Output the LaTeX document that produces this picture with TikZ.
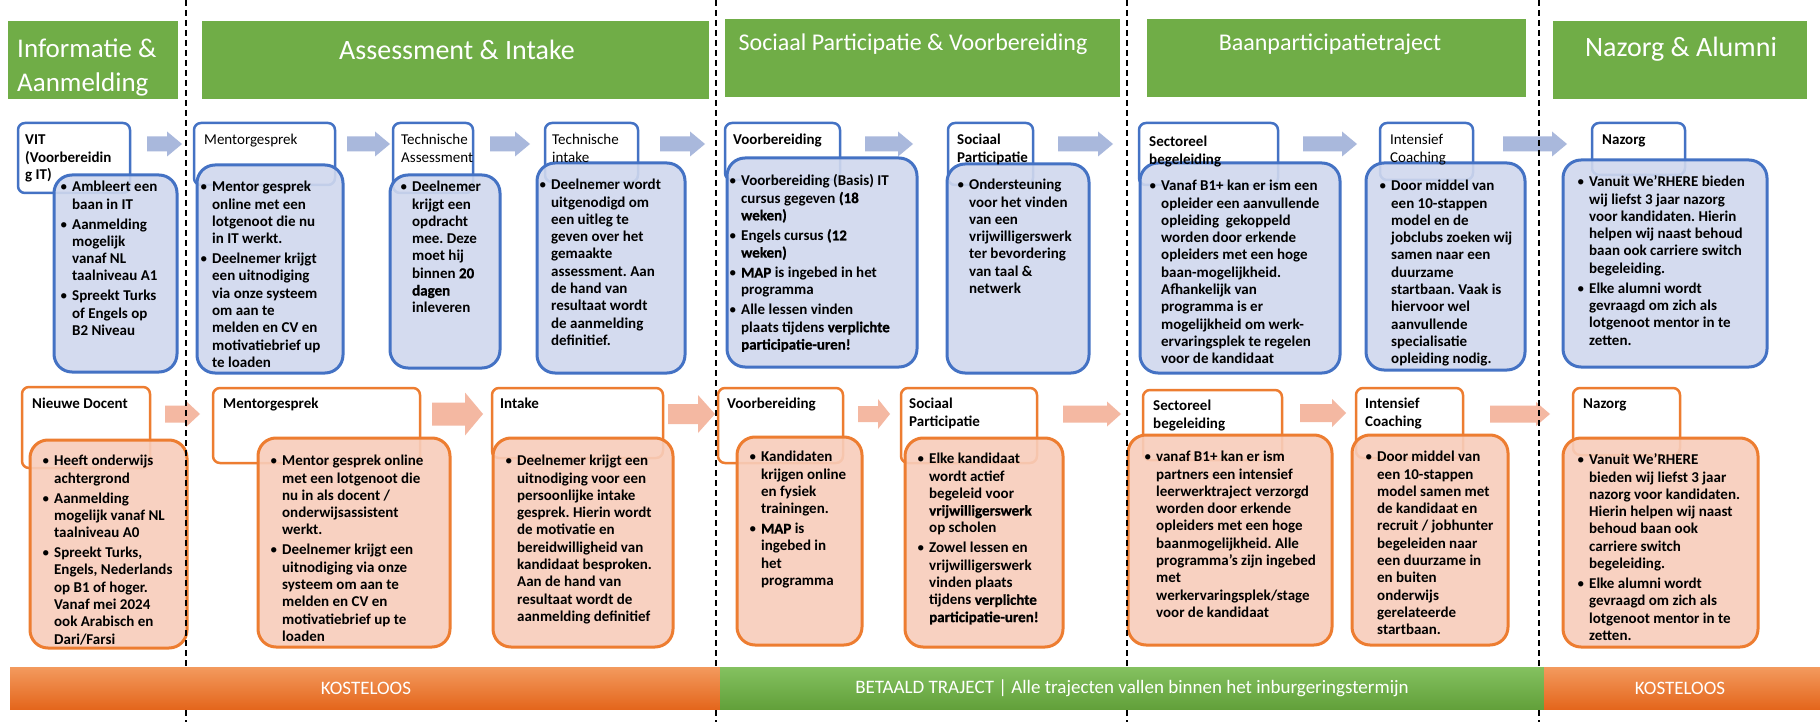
\documentclass[tikz,border=0pt]{standalone}
\usepackage{fontspec}
\setmainfont{Carlito}
\newfontface\heavy{Carlito Bold}[FakeBold=1]
\usetikzlibrary{fit}
\frenchspacing
\definecolor{bborder}{HTML}{4472C4}
\definecolor{bfill}{HTML}{D0D8EE}
\definecolor{barrow}{HTML}{A9B8DC}
\definecolor{oborder}{HTML}{ED7D31}
\definecolor{ofill}{HTML}{F8CDBB}
\definecolor{oarrow}{HTML}{F4B8A2}
\definecolor{hgreen}{HTML}{70AD47}
\definecolor{barOtop}{HTML}{F39A5E}
\definecolor{barOmid}{HTML}{EE7C33}
\definecolor{barObot}{HTML}{E4661C}
\definecolor{barGtop}{HTML}{84C160}
\definecolor{barGmid}{HTML}{72AF4A}
\definecolor{barGbot}{HTML}{62A03A}
\newcommand\mylines[1]{\begin{tabular}{@{}l@{}}#1\end{tabular}}
\newcommand\mybullets[1]{\begin{tabular}{@{}l@{\hspace{4.5pt}}l@{}}#1\end{tabular}}
\newcommand\bpt{{\mdseries\textbullet}&}
% x1, x2, yc, shaft half, head half, head length, colour
\newcommand\blockarrow[7]{%
  \fill[#7] (#1,#3-#4) -- (#2-#6,#3-#4) -- (#2-#6,#3-#5) -- (#2,#3) --
  (#2-#6,#3+#5) -- (#2-#6,#3+#4) -- (#1,#3+#4) -- cycle;}
\tikzset{
  btitle/.style={draw=bborder, line width=2.5pt, fill=white, rounded corners=7pt, inner sep=0pt},
  bcont/.style={draw=bborder, line width=3pt, fill=bfill, fill opacity=0.9, rounded corners=18pt, inner sep=0pt},
  otitle/.style={draw=oborder, line width=2.5pt, fill=white, rounded corners=7pt, inner sep=0pt},
  ocont/.style={draw=oborder, line width=3pt, fill=ofill, fill opacity=0.9, rounded corners=18pt, inner sep=0pt},
  txt/.style={anchor=north west, inner sep=0pt, font=\fontsize{15}{17.3}\selectfont},
  btxt/.style={anchor=north west, inner sep=0pt, font=\fontsize{15}{17.3}\selectfont\bfseries},
  header/.style={fill=hgreen, inner sep=0pt},
  htxt/.style={text=white, inner sep=0pt},
  dashline/.style={line width=2pt, dash pattern=on 6pt off 4pt},
  obar/.style={inner sep=0pt, top color=barOtop, middle color=barOmid, bottom color=barObot},
  gbar/.style={inner sep=0pt, top color=barGtop, middle color=barGmid, bottom color=barGbot},
  bartxt/.style={text=white, inner sep=0pt, font=\fontsize{19}{22}\selectfont},
}
\begin{document}
\begin{tikzpicture}[x=1pt,y=-1pt]
\useasboundingbox (0,0) rectangle (1820,722);
\fill[white] (0,0) rectangle (1820,722);

% ---------- headers ----------
\node[header, fit={(8,21) (178,99)}] (h1) {};
\node[header, fit={(202,21) (709,99)}] (h2) {};
\node[header, fit={(725,19) (1120,97)}] (h3) {};
\node[header, fit={(1147,19) (1526,97)}] (h4) {};
\node[header, fit={(1553,21) (1807,99)}] (h5) {};
\node[htxt, anchor=north west, font=\fontsize{27}{34}\selectfont] (h1t) at (17,34) {\mylines{Informatie \&\\Aanmelding}};
\node[htxt, font=\fontsize{28}{34}\selectfont] (h2t) at (457,50) {Assessment \& Intake};
\node[htxt, font=\fontsize{24}{30}\selectfont] (h3t) at (913,44) {Sociaal Participatie \& Voorbereiding};
\node[htxt, font=\fontsize{24}{30}\selectfont] (h4t) at (1330,44) {Baanparticipatietraject};
\node[htxt, font=\fontsize{28}{34}\selectfont] (h5t) at (1681,49) {Nazorg \& Alumni};

% ---------- blue arrows ----------
\blockarrow{147}{182}{144}{7.5}{12.5}{15}{barrow}
\blockarrow{347}{390}{144}{7.5}{12.5}{15}{barrow}
\blockarrow{490}{530}{144}{7.5}{12.5}{15}{barrow}
\blockarrow{660}{705}{144}{7.5}{12.5}{15}{barrow}
\blockarrow{865}{913}{144}{7.5}{12.5}{15}{barrow}
\blockarrow{1058}{1113}{144}{7.5}{12.5}{15}{barrow}
\blockarrow{1303}{1357}{144}{7.5}{12.5}{15}{barrow}
\blockarrow{1503}{1567}{144}{7.5}{12.5}{15}{barrow}

% ---------- orange arrows ----------
\blockarrow{165}{200}{414}{8.5}{13}{14}{oarrow}
\blockarrow{432}{483}{414}{11.5}{21.5}{18}{oarrow}
\blockarrow{668}{715}{414}{10}{19}{17}{oarrow}
\blockarrow{858}{890}{414}{8}{15}{12}{oarrow}
\blockarrow{1063}{1121}{414}{8.5}{12.5}{14}{oarrow}
\blockarrow{1300}{1346}{413}{9}{14}{14}{oarrow}
\blockarrow{1490}{1550}{414}{8.5}{12}{14}{oarrow}

% ---------- blue row ----------
\node[btitle, fit={(18,123) (130,193)}] (b1t) {};
\node[bcont, fit={(54,175) (177,372)}] (b1c) {};
\node[btxt] (b1tt) at (25,132.4) {\mylines{VIT\\(Voorbereidin\\g IT)}};
\node[btxt] (b1ct) at (60,179.4) {\mybullets{\bpt Ambleert een\\ & baan in IT\\[2.7pt]
\bpt Aanmelding\\ & mogelijk\\ & vanaf NL\\ & taalniveau A1\\[2.7pt]
\bpt Spreekt Turks\\ & of Engels op\\ & B2 Niveau}};

\node[btitle, fit={(194,123) (335,185)}] (b2t) {};
\node[bcont, fit={(197,165) (343,373)}] (b2c) {};
\node[txt] (b2tt) at (204,132.4) {\mylines{Mentorgesprek}};
\node[btxt] (b2ct) at (200,179.4) {\mybullets{\bpt Mentor gesprek\\ & online met een\\ & lotgenoot die nu\\ & in IT werkt.\\[2.7pt]
\bpt Deelnemer krijgt\\ & een uitnodiging\\ & via onze systeem\\ & om aan te\\ & melden en CV en\\ & motivatiebrief up\\ & te loaden}};

\node[btitle, fit={(393,123) (473,193)}] (b3t) {};
\node[bcont, fit={(390,175) (500,368)}] (b3c) {};
\node[txt] (b3tt) at (401,132.4) {\mylines{Technische\\Assessment}};
\node[btxt] (b3ct) at (400,179.4) {\mybullets{\bpt Deelnemer\\ & krijgt een\\ & opdracht\\ & mee. Deze\\ & moet hij\\ & binnen {\heavy 20}\\ & {\heavy dagen}\\ & inleveren}};

\node[btitle, fit={(545,123) (638,182)}] (b4t) {};
\node[bcont, fit={(537,163) (685,373)}] (b4c) {};
\node[txt] (b4tt) at (552,132.4) {\mylines{Technische\\intake}};
\node[btxt] (b4ct) at (539,177.4) {\mybullets{\bpt Deelnemer wordt\\ & uitgenodigd om\\ & een uitleg te\\ & geven over het\\ & gemaakte\\ & assessment. Aan\\ & de hand van\\ & resultaat wordt\\ & de aanmelding\\ & definitief.}};

\node[btitle, fit={(725,123) (840,180)}] (b5t) {};
\node[bcont, fit={(727,158) (917,367)}] (b5c) {};
\node[btxt] (b5tt) at (733,132.4) {\mylines{Voorbereiding}};
\node[btxt] (b5ct) at (729,173.4) {\mybullets{\bpt Voorbereiding (Basis) IT\\ & cursus gegeven {\heavy (18}\\ & {\heavy weken)}\\[2.7pt]
\bpt Engels cursus {\heavy (12}\\ & {\heavy weken)}\\[2.7pt]
\bpt {\heavy MAP} is ingebed in het\\ & programma\\[2.7pt]
\bpt Alle lessen vinden\\ & plaats tijdens {\heavy verplichte}\\ & {\heavy participatie-uren!}}};

\node[btitle, fit={(948,123) (1033,185)}] (b6t) {};
\node[bcont, fit={(947,164) (1089,373)}] (b6c) {};
\node[btxt] (b6tt) at (957,132.4) {\mylines{Sociaal\\Participatie}};
\node[btxt] (b6ct) at (957,177.4) {\mybullets{\bpt Ondersteuning\\ & voor het vinden\\ & van een\\ & vrijwilligerswerk\\ & ter bevordering\\ & van taal \&\\ & netwerk}};

\node[btitle, fit={(1139,123) (1278,185)}] (b7t) {};
\node[bcont, fit={(1140,163) (1340,373)}] (b7c) {};
\node[btxt] (b7tt) at (1149,134.4) {\mylines{Sectoreel\\begeleiding}};
\node[btxt] (b7ct) at (1149,178.4) {\mybullets{\bpt Vanaf B1+ kan er ism een\\ & opleider een aanvullende\\ & opleiding\ \ gekoppeld\\ & worden door erkende\\ & opleiders met een hoge\\ & baan-mogelijkheid.\\ & Afhankelijk van\\ & programma is er\\ & mogelijkheid om werk-\\ & ervaringsplek te regelen\\ & voor de kandidaat}};

\node[btitle, fit={(1380,123) (1473,180)}] (b8t) {};
\node[bcont, fit={(1366,163) (1525,370)}] (b8c) {};
\node[txt] (b8tt) at (1390,132.4) {\mylines{Intensief\\Coaching}};
\node[btxt] (b8ct) at (1379,178.4) {\mybullets{\bpt Door middel van\\ & een 10-stappen\\ & model en de\\ & jobclubs zoeken wij\\ & samen naar een\\ & duurzame\\ & startbaan. Vaak is\\ & hiervoor wel\\ & aanvullende\\ & specialisatie\\ & opleiding nodig.}};

\node[btitle, fit={(1592,123) (1685,175)}] (b9t) {};
\node[bcont, fit={(1563,160) (1767,367)}] (b9c) {};
\node[btxt] (b9tt) at (1602,132.4) {\mylines{Nazorg}};
\node[btxt] (b9ct) at (1577,174.4) {\mybullets{\bpt Vanuit We'RHERE bieden\\ & wij liefst 3 jaar nazorg\\ & voor kandidaten. Hierin\\ & helpen wij naast behoud\\ & baan ook carriere switch\\ & begeleiding.\\[2.7pt]
\bpt Elke alumni wordt\\ & gevraagd om zich als\\ & lotgenoot mentor in te\\ & zetten.}};

% ---------- orange row ----------
\node[otitle, fit={(22,387) (150,468)}] (o1t) {};
\node[ocont, fit={(30,440) (187,648)}] (o1c) {};
\node[btxt] (o1tt) at (32,396.4) {\mylines{Nieuwe Docent}};
\node[btxt] (o1ct) at (42,453.4) {\mybullets{\bpt Heeft onderwijs\\ & achtergrond\\[2.7pt]
\bpt Aanmelding\\ & mogelijk vanaf NL\\ & taalniveau A0\\[2.7pt]
\bpt Spreekt Turks,\\ & Engels, Nederlands\\ & op B1 of hoger.\\ & Vanaf mei 2024\\ & ook Arabisch en\\ & Dari/Farsi}};

\node[otitle, fit={(213,388) (420,463)}] (o2t) {};
\node[ocont, fit={(258,438) (450,647)}] (o2c) {};
\node[btxt] (o2tt) at (223,396.4) {\mylines{Mentorgesprek}};
\node[btxt] (o2ct) at (270,453.4) {\mybullets{\bpt Mentor gesprek online\\ & met een lotgenoot die\\ & nu in als docent /\\ & onderwijsassistent\\ & werkt.\\[2.7pt]
\bpt Deelnemer krijgt een\\ & uitnodiging via onze\\ & systeem om aan te\\ & melden en CV en\\ & motivatiebrief up te\\ & loaden}};

\node[otitle, fit={(492,388) (663,458)}] (o3t) {};
\node[ocont, fit={(493,438) (673,647)}] (o3c) {};
\node[btxt] (o3tt) at (500,396.4) {\mylines{Intake}};
\node[btxt] (o3ct) at (505,453.4) {\mybullets{\bpt Deelnemer krijgt een\\ & uitnodiging voor een\\ & persoonlijke intake\\ & gesprek. Hierin wordt\\ & de motivatie en\\ & bereidwilligheid van\\ & kandidaat besproken.\\ & Aan de hand van\\ & resultaat wordt de\\ & aanmelding definitief}};

\node[otitle, fit={(718,388) (843,463)}] (o4t) {};
\node[ocont, fit={(737,437) (862,645)}] (o4c) {};
\node[btxt] (o4tt) at (727,396.4) {\mylines{Voorbereiding}};
\node[btxt] (o4ct) at (749,449.4) {\mybullets{\bpt Kandidaten\\ & krijgen online\\ & en fysiek\\ & trainingen.\\[2.7pt]
\bpt {\heavy MAP} is\\ & ingebed in\\ & het\\ & programma}};

\node[otitle, fit={(901,388) (1037,463)}] (o5t) {};
\node[ocont, fit={(905,438) (1063,647)}] (o5c) {};
\node[btxt] (o5tt) at (909,396.4) {\mylines{Sociaal\\Participatie}};
\node[btxt] (o5ct) at (917,451.4) {\mybullets{\bpt Elke kandidaat\\ & wordt actief\\ & begeleid voor\\ & {\heavy vrijwilligerswerk}\\ & op scholen\\[2.7pt]
\bpt Zowel lessen en\\ & vrijwilligerswerk\\ & vinden plaats\\ & tijdens {\heavy verplichte}\\ & {\heavy participatie-uren!}}};

\node[otitle, fit={(1143,390) (1282,460)}] (o6t) {};
\node[ocont, fit={(1128,435) (1332,645)}] (o6c) {};
\node[btxt] (o6tt) at (1153,398.4) {\mylines{Sectoreel\\begeleiding}};
\node[btxt] (o6ct) at (1144,449.4) {\mybullets{\bpt vanaf B1+ kan er ism\\ & partners een intensief\\ & leerwerktraject verzorgd\\ & worden door erkende\\ & opleiders met een hoge\\ & baanmogelijkheid. Alle\\ & programma's zijn ingebed\\ & met\\ & werkervaringsplek/stage\\ & voor de kandidaat}};

\node[otitle, fit={(1356,388) (1463,458)}] (o7t) {};
\node[ocont, fit={(1352,435) (1508,645)}] (o7c) {};
\node[btxt] (o7tt) at (1365,396.4) {\mylines{Intensief\\Coaching}};
\node[btxt] (o7ct) at (1365,449.4) {\mybullets{\bpt Door middel van\\ & een 10-stappen\\ & model samen met\\ & de kandidaat en\\ & recruit / jobhunter\\ & begeleiden naar\\ & een duurzame in\\ & en buiten\\ & onderwijs\\ & gerelateerde\\ & startbaan.}};

\node[otitle, fit={(1573,388) (1680,455)}] (o8t) {};
\node[ocont, fit={(1563,438) (1758,647)}] (o8c) {};
\node[btxt] (o8tt) at (1583,396.4) {\mylines{Nazorg}};
\node[btxt] (o8ct) at (1577,452.4) {\mybullets{\bpt Vanuit We'RHERE\\ & bieden wij liefst 3 jaar\\ & nazorg voor kandidaten.\\ & Hierin helpen wij naast\\ & behoud baan ook\\ & carriere switch\\ & begeleiding.\\[2.7pt]
\bpt Elke alumni wordt\\ & gevraagd om zich als\\ & lotgenoot mentor in te\\ & zetten.}};

% ---------- dashed phase separators ----------
\draw[dashline] (186,0) -- (186,722);
\draw[dashline] (716,0) -- (716,722);
\draw[dashline] (1127,0) -- (1127,722);
\draw[dashline] (1539,0) -- (1539,722);

% ---------- bottom bar ----------
\node[obar, fit={(10,667) (720,709)}] (k1) {};
\node[gbar, fit={(720,667) (1544,709)}] (k2) {};
\node[obar, fit={(1544,667) (1820,709)}] (k3) {};
\node[bartxt] (k1t) at (366,688) {KOSTELOOS};
\node[bartxt] (k2t) at (1132,688) {BETAALD TRAJECT | Alle trajecten vallen binnen het inburgeringstermijn};
\node[bartxt] (k3t) at (1680,688) {KOSTELOOS};
\end{tikzpicture}
\end{document}
